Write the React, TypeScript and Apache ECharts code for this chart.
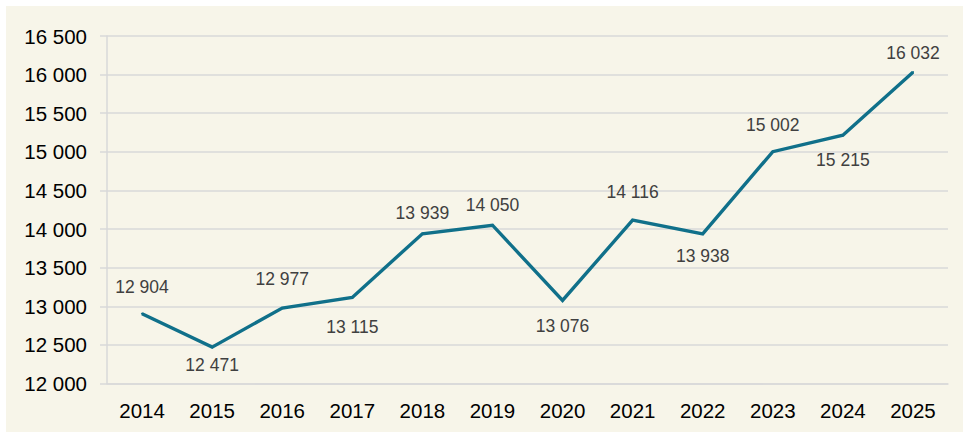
import React, { useEffect, useRef } from "react";
import * as echarts from "echarts";

const years = ["2014", "2015", "2016", "2017", "2018", "2019", "2020", "2021", "2022", "2023", "2024", "2025"];
const values = [12904, 12471, 12977, 13115, 13939, 14050, 13076, 14116, 13938, 15002, 15215, 16032];
const labelSides = ["top", "bottom", "top", "bottom", "top", "top", "bottom", "top", "bottom", "top", "bottom", "top"];
const labelDistances = [17, 8, 19, 20, 11, 10, 16, 18, 12, 17, 15, 9];
const yTicks = { min: 12000, max: 16500, interval: 500 };

const fmt = (v: number) => {
  const s = String(Math.round(v));
  return s.replace(/\B(?=(\d{3})+(?!\d))/g, " ");
};

export default function App() {
  const ref = useRef<HTMLDivElement>(null);
  useEffect(() => {
    if (!ref.current) return;
    const chart = echarts.init(ref.current, undefined, { renderer: "svg" });
    chart.setOption({
      animation: false,
      backgroundColor: "#ffffff",
      graphic: [
        {
          type: "rect",
          left: 6,
          top: 6,
          shape: { width: 957, height: 426 },
          style: { fill: "#f7f5e9" },
          z: -10,
          silent: true,
        },
      ],
      grid: { left: 107, right: 15, top: 36, bottom: 48.5, containLabel: false },
      xAxis: {
        type: "category",
        data: years,
        boundaryGap: true,
        axisLine: { show: true, lineStyle: { color: "#d9d9d9", width: 1.5 } },
        axisTick: { show: false },
        axisLabel: { color: "#000000", fontSize: 20.5, fontFamily: "Liberation Sans", margin: 16 },
      },
      yAxis: {
        type: "value",
        min: yTicks.min,
        max: yTicks.max,
        interval: yTicks.interval,
        axisLine: { show: true, lineStyle: { color: "#d9d9d9", width: 1.5 } },
        axisTick: { show: true, length: 7, lineStyle: { color: "#d9d9d9", width: 1.5 } },
        splitLine: { show: true, lineStyle: { color: "#d9d9d9", width: 1.5 } },
        axisLabel: {
          color: "#000000",
          fontSize: 20.5,
          fontFamily: "Liberation Sans",
          margin: 20,
          formatter: (v: number) => fmt(v),
        },
      },
      series: [
        {
          type: "line",
          data: values.map((v, i) => ({
            value: v,
            label: { position: labelSides[i], distance: labelDistances[i] },
          })),
          symbol: "circle",
          symbolSize: 2,
          showSymbol: true,
          showAllSymbol: true,
          lineStyle: { color: "#10708a", width: 3.4, join: "miter", cap: "butt" },
          itemStyle: { color: "#10708a" },
          label: {
            show: true,
            color: "#404040",
            fontSize: 17.5,
            fontFamily: "Liberation Sans",
            formatter: (p: any) => fmt(p.value),
          },
        },
      ],
    });
    return () => chart.dispose();
  }, []);
  return (
    <div
      ref={ref}
      style={{ position: "fixed", left: 0, top: 0, width: 963, height: 432 }}
    />
  );
}
